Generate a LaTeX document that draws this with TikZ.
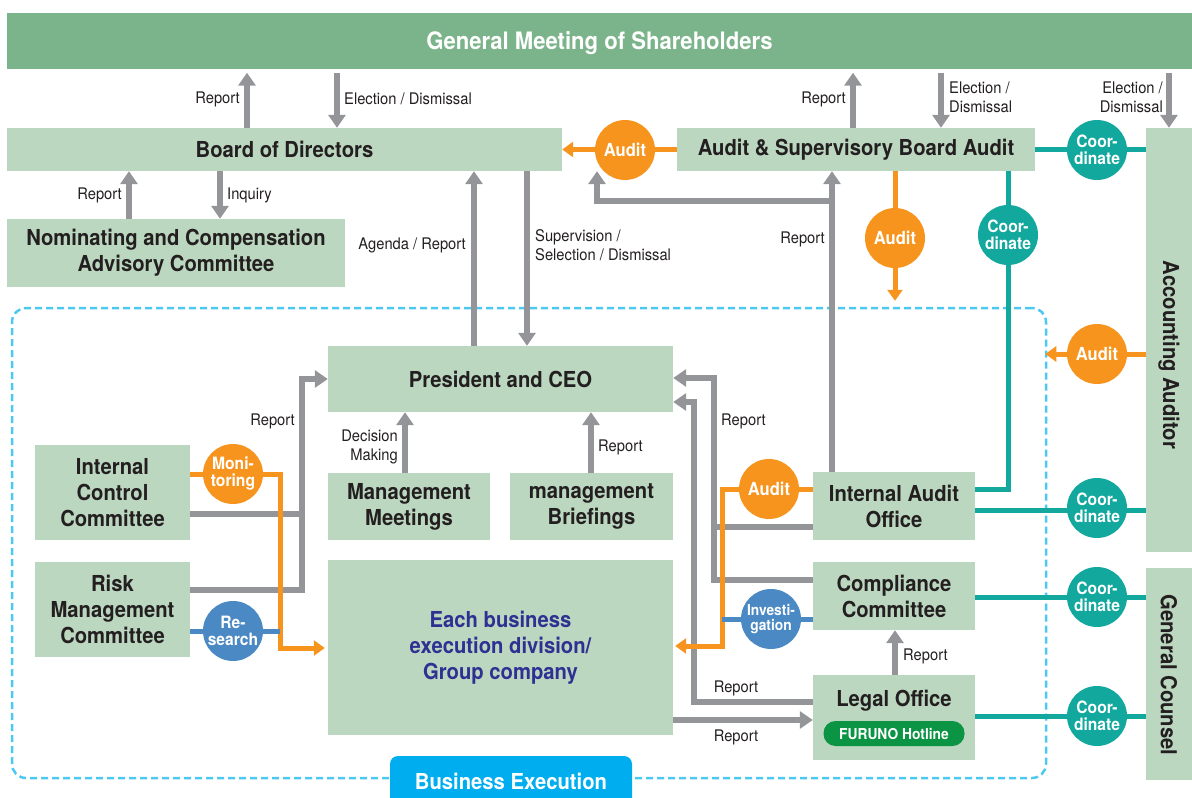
\documentclass[tikz,border=0pt]{standalone}
\usepackage{fontspec}
\setmainfont{TeX Gyre Heros}[FakeStretch=0.92]
\usetikzlibrary{arrows.meta}
\definecolor{boxgreen}{RGB}{188,215,192}
\definecolor{gmgreen}{RGB}{123,180,138}
\definecolor{arrgray}{RGB}{147,149,152}
\definecolor{audorange}{RGB}{247,148,30}
\definecolor{coorteal}{RGB}{19,168,158}
\definecolor{resblue}{RGB}{74,137,195}
\definecolor{dashblue}{RGB}{77,200,240}
\definecolor{bexblue}{RGB}{0,174,239}
\definecolor{hotgreen}{RGB}{11,148,68}
\definecolor{txtdark}{RGB}{35,31,32}
\definecolor{txtblue}{RGB}{46,49,146}
\newcommand{\fsz}[2]{\fontsize{#1}{#2}\selectfont}

\begin{document}
\begin{tikzpicture}[x=1pt, y=-1pt,
  boxtxt/.style={text=txtdark, font=\bfseries\fsz{22}{26}, align=center, inner sep=0pt},
  box/.style={boxtxt, fill=boxgreen},
  lbl/.style={text=txtdark, font=\fsz{16}{19}, inner sep=1pt},
  garr/.style={draw=arrgray, line width=6pt, -{Triangle[length=13pt,width=17pt]}},
  gline/.style={draw=arrgray, line width=6pt},
  oarr/.style={draw=audorange, line width=5pt, -{Triangle[length=11pt,width=15pt]}},
  bline/.style={draw=resblue, line width=5pt},
  tline/.style={draw=coorteal, line width=5pt},
  circ/.style={circle, minimum size=60pt, inner sep=0pt, text=white, font=\bfseries\fsz{17}{17}, align=center},
  ocirc/.style={circ, fill=audorange},
  tcirc/.style={circ, fill=coorteal},
  bcirc/.style={circ, fill=resblue}]

\useasboundingbox (0,0) rectangle (1192,798);

% business execution frame
\node[draw=dashblue, line width=2.5pt, dash pattern=on 7pt off 4pt, rounded corners=14pt,
  minimum width=1034pt, minimum height=470pt, inner sep=0pt] (busex) at (529,543) {};
\node[fill=bexblue, text=white, font=\bfseries\fsz{22}{26}, rounded corners=8pt,
  minimum width=242pt, minimum height=50pt, inner sep=0pt] (bextab) at (511,781) {Business Execution};

% boxes
\node[fill=gmgreen, text=white, font=\bfseries\fsz{24}{28}, text height=17pt, text depth=0pt,
  minimum width=1185pt, minimum height=56pt, inner sep=0pt] (gm) at (599.5,40.5) {General Meeting of Shareholders};
\node[box, minimum width=555pt, minimum height=43pt] (bod) at (284.5,149.5) {Board of Directors};
\node[box, minimum width=358pt, minimum height=43pt] (asba) at (856,149.5) {Audit \& Supervisory Board Audit};
\node[box, minimum width=46pt, minimum height=424pt] (aa) at (1169,340) {};
\node[boxtxt, rotate=-90] (aatxt) at (1169,355) {Accounting Auditor};
\node[box, minimum width=46pt, minimum height=212pt] (gc) at (1169,674) {};
\node[boxtxt, rotate=-90] (gctxt) at (1169,675) {General Counsel};
\node[box, minimum width=338pt, minimum height=68pt] (ncac) at (176,253) {Nominating and Compensation\\Advisory Committee};

\node[box, minimum width=345pt, minimum height=66pt] (pres) at (500.5,379) {President and CEO};
\node[box, minimum width=162pt, minimum height=67pt] (mm) at (409,506.5) {Management\\Meetings};
\node[box, minimum width=163pt, minimum height=67pt] (mb) at (591.5,506.5) {management\\Briefings};
\node[box, minimum width=155pt, minimum height=95pt] (icc) at (112.5,492.5) {Internal\\Control\\Committee};
\node[box, minimum width=155pt, minimum height=95pt] (rmc) at (112.5,609.5) {Risk\\Management\\Committee};
\node[box, text=txtblue, minimum width=345pt, minimum height=175pt] (ebd) at (500.5,647.5) {Each business\\execution division/\\Group company};
\node[box, minimum width=162pt, minimum height=68pt] (iao) at (894,506) {Internal Audit\\Office};
\node[box, minimum width=162pt, minimum height=68pt] (cc) at (894,596) {Compliance\\Committee};
\node[box, minimum width=162pt, minimum height=85pt] (lo) at (894,717.5) {};
\node[boxtxt] (lotxt) at (894,701) {Legal Office};
\node[fill=hotgreen, text=white, font=\bfseries\fsz{15}{16}, rounded corners=12pt,
  minimum width=141pt, minimum height=25pt, inner sep=0pt] (hotline) at (894,733.5) {FURUNO Hotline};

% gray report lines
\draw[garr, shorten >=4pt] (bod.north -| 247,0) -- (gm.south -| 247,0);
\node[lbl, anchor=east] (rpt1) at (241,99) {Report};
\draw[garr, shorten <=4pt] (gm.south -| 337,0) -- (bod.north -| 337,0);
\node[lbl, anchor=west] (eld1) at (343,99) {Election / Dismissal};
\draw[garr, shorten >=4pt] (asba.north -| 853,0) -- (gm.south -| 853,0);
\node[lbl, anchor=east] (rpt2) at (847,99) {Report};
\draw[garr, shorten <=4pt] (gm.south -| 941,0) -- (asba.north -| 941,0);
\node[lbl, anchor=west, align=left] (eld2) at (948,97) {Election /\\Dismissal};
\draw[garr, shorten <=4pt] (gm.south -| aa.north) -- (aa.north);
\node[lbl, anchor=east, align=right] (eld3) at (1164,97) {Election /\\Dismissal};

\draw[garr] (ncac.north -| 129,0) -- (bod.south -| 129,0);
\node[lbl, anchor=east] (rpt3) at (123,195) {Report};
\draw[garr] (bod.south -| 220,0) -- (ncac.north -| 220,0);
\node[lbl, anchor=west] (inq) at (226,195) {Inquiry};
\draw[garr] (pres.north -| 474,0) -- (bod.south -| 474,0);
\node[lbl, anchor=east] (agd) at (467,245) {Agenda / Report};
\draw[garr] (bod.south -| 527,0) -- (pres.north -| 527,0);
\node[lbl, anchor=west, align=left] (sup) at (534,245) {Supervision /\\Selection / Dismissal};

\coordinate (rptsplit) at (832,201);
\draw[garr] (iao.north -| 832,0) -- (asba.south -| 832,0);
\draw[garr] (rptsplit) -| (bod.south -| 597,0);
\node[lbl, anchor=east] (rpt4) at (826,239) {Report};

\draw[garr] (icc.east |- 0,514) -- (302,514) |- (pres.west);
\draw[gline] (rmc.east |- 0,590) -| (302,514);
\node[lbl, anchor=east] (rpt5) at (296,421) {Report};
\draw[garr] (mm.north -| 405,0) -- (pres.south -| 405,0);
\node[lbl, anchor=east, align=right] (dec) at (399,447) {Decision\\Making};
\draw[garr] (mb.north -| 591,0) -- (pres.south -| 591,0);
\node[lbl, anchor=west] (rpt6) at (597,447) {Report};

\draw[garr] (cc.west |- 0,580) -| (714,378) -- (pres.east |- 0,378);
\draw[gline] (iao.west |- 0,527) -- (714,527);
\node[lbl, anchor=west] (rpt7) at (720,421) {Report};
\draw[garr] (lo.west |- 0,702) -| (694,402) -- (pres.east |- 0,402);
\node[lbl] (rpt8) at (736,688) {Report};
\draw[garr] (ebd.east |- 0,720) -- (lo.west |- 0,720);
\node[lbl] (rpt9) at (736,737) {Report};
\draw[garr] (lo.north -| 895,0) -- (cc.south -| 895,0);
\node[lbl, anchor=west] (rpt10) at (902,656) {Report};

% audit, research and coordination lines
\draw[oarr] (asba.west) -- (bod.east);
\draw[oarr, shorten >=6pt] (asba.south -| 895,0) -- (busex.north -| 895,0);
\draw[oarr, shorten >=-2pt] (aa.west |- 0,354) -- (busex.east |- 0,354);
\draw[oarr, shorten >=3pt] (icc.east |- 0,474) -| (280,648) -- (ebd.west |- 0,648);
\draw[oarr, shorten >=2pt] (iao.west |- 0,489) -| (722,646) -- (ebd.east |- 0,646);
\draw[bline] (rmc.east |- 0,631) -- (280,631);
\draw[bline] (cc.west |- 0,619) -- (722,619);

\draw[tline] (asba.east) -- (aa.west |- asba.east);
\draw[tline] (asba.south -| 1008,0) |- (iao.east |- 0,489);
\draw[tline] (iao.east |- 0,510) -- (aa.west |- 0,510);
\draw[tline] (cc.east |- 0,597) -- (gc.west |- 0,597);
\draw[tline] (lo.east |- 0,716) -- (gc.west |- 0,716);

% circles
\node[ocirc, font=\bfseries\fsz{18}{18}] (audA) at (625,150) {Audit};
\node[ocirc, font=\bfseries\fsz{18}{18}] (audB) at (895,238) {Audit};
\node[ocirc, font=\bfseries\fsz{18}{18}] (audC) at (1097,354) {Audit};
\node[ocirc, font=\bfseries\fsz{18}{18}] (audD) at (769,489) {Audit};
\node[tcirc] (coorA) at (1097,150) {Coor-\\dinate};
\node[tcirc] (coorB) at (1008,235) {Coor-\\dinate};
\node[tcirc] (coorC) at (1097,508) {Coor-\\dinate};
\node[tcirc] (coorD) at (1097,597) {Coor-\\dinate};
\node[tcirc] (coorE) at (1097,716) {Coor-\\dinate};
\node[ocirc] (moni) at (233,474) {Moni-\\toring};
\node[bcirc] (resr) at (233,631) {Re-\\search};
\node[bcirc, font=\bfseries\fsz{15}{15}] (inv) at (771,619) {Investi-\\gation};

\end{tikzpicture}
\end{document}
